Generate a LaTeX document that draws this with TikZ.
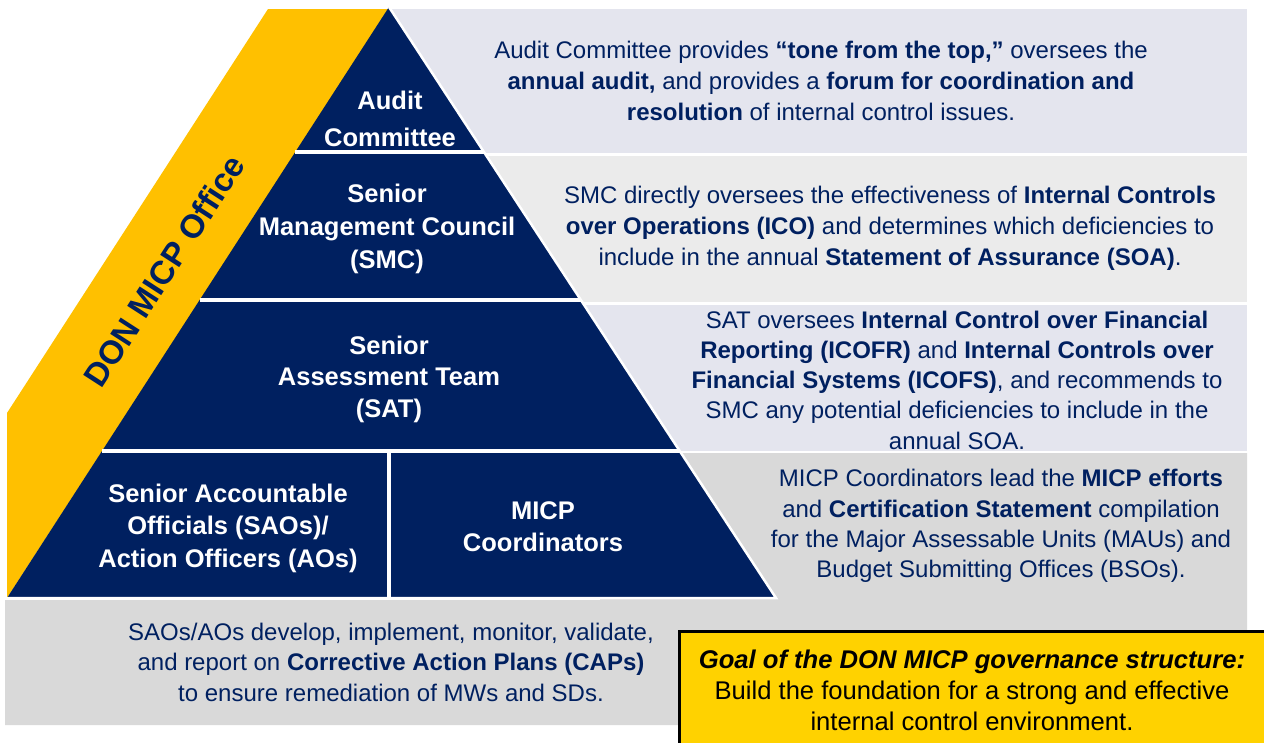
\documentclass[tikz,border=0pt]{standalone}
\usepackage{fontspec}
\setmainfont{Liberation Sans}
\usetikzlibrary{calc}

\definecolor{navy}{HTML}{002060}
\definecolor{gold}{HTML}{FFC000}
\definecolor{goalyellow}{HTML}{FFD200}
\definecolor{bandlav}{HTML}{E4E5EE}
\definecolor{bandgray}{HTML}{EBEBEB}
\definecolor{banddark}{HTML}{D9D9D9}

\begin{document}
\begin{tikzpicture}[x=1pt,y=-1pt,
  tierlabel/.style={text=white,align=center,inner sep=0pt,
    font=\bfseries\fontsize{25.5}{32.5}\selectfont},
  desc/.style={text=navy,align=center,inner sep=0pt,
    font=\fontsize{24}{30.5}\selectfont},
  separator/.style={draw=white,line width=4pt},
  goalbox/.style={fill=goalyellow,draw=black,line width=3pt,inner sep=0pt}
]
\useasboundingbox (0,0) rectangle (1264,742);

% grey description bands behind the pyramid
\fill[bandlav]  (389,9)   rectangle (1247,153);
\fill[bandgray] (470,156) rectangle (1247,302);
\fill[bandlav]  (560,305) rectangle (1247,451);
\fill[banddark] (600,453) -- (1247,453) -- (1247,725) -- (5,725)
                -- (5,600) -- (600,600) -- cycle;

% pyramid corners
\coordinate (apex) at (389,7);
\coordinate (bl) at (7,598);
\coordinate (br) at (776,598);

% yellow office band along the left flank
\fill[gold] (268,9) -- (389,9) -- (bl) -- (7,413) -- cycle;

% pyramid body
\fill[navy] (apex) -- (br) -- (bl) -- cycle;
\draw[draw=white,line width=2.5pt,line join=miter] (apex) -- (br) -- (bl);

% tier separators
\draw[separator] ($(apex)!0.2453!(bl)$) -- ($(apex)!0.2453!(br)$);
\draw[separator] ($(apex)!0.4958!(bl)$) -- ($(apex)!0.4958!(br)$);
\draw[separator] ($(apex)!0.7513!(bl)$) -- ($(apex)!0.7513!(br)$);
\draw[separator] (388.5,451) -- (388.5,598);

% office label on the yellow band
\node[rotate=57.1,text=navy,inner sep=0pt,
      font=\bfseries\fontsize{33}{33}\selectfont] (office) at (164,271) {DON MICP Office};

% tier labels
\node[tierlabel,font=\bfseries\fontsize{25.5}{37}\selectfont] (audit) at (390,119) {Audit\\Committee};
\node[tierlabel,font=\bfseries\fontsize{25.5}{33}\selectfont] (smc) at (387,229) {Senior\\Management Council\\(SMC)};
\node[tierlabel,font=\bfseries\fontsize{25.5}{31.5}\selectfont] (sat) at (389,379) {Senior\\Assessment Team\\(SAT)};
\node[tierlabel] (sao) at (228,528) {Senior Accountable\\Officials (SAOs)/\\Action Officers (AOs)};
\node[tierlabel,font=\bfseries\fontsize{25.5}{32}\selectfont] (micp) at (543,527) {MICP\\Coordinators};

% descriptions
\node[desc,font=\fontsize{24}{31}\selectfont] (auditdesc) at (821,81)
  {Audit Committee provides \textbf{“tone from the top,”} oversees the\\
   \textbf{annual audit,} and provides a \textbf{forum for coordination and}\\
   \textbf{resolution} of internal control issues.};
\node[desc,font=\fontsize{24}{31}\selectfont] (smcdesc) at (890,228)
  {SMC directly oversees the effectiveness of \textbf{Internal Controls}\\
   \textbf{over Operations (ICO)} and determines which deficiencies to\\
   include in the annual \textbf{Statement of Assurance (SOA)}.};
\node[desc,font=\fontsize{24}{30.25}\selectfont] (satdesc) at (957,380)
  {SAT oversees \textbf{Internal Control over Financial}\\
   \textbf{Reporting (ICOFR)} and \textbf{Internal Controls over}\\
   \textbf{Financial Systems (ICOFS)}, and recommends to\\
   SMC any potential deficiencies to include in the\\
   annual SOA.};
\node[desc,font=\fontsize{24}{30.3}\selectfont] (micpdesc) at (1001,526)
  {MICP Coordinators lead the \textbf{MICP efforts}\\
   and \textbf{Certification Statement} compilation\\
   for the Major Assessable Units (MAUs) and\\
   Budget Submitting Offices (BSOs).};
\node[desc] (saodesc) at (391,662)
  {SAOs/AOs develop, implement, monitor, validate,\\
   and report on \textbf{Corrective Action Plans (CAPs)}\\
   to ensure remediation of MWs and SDs.};

% goal call-out
\node[goalbox,anchor=north west,minimum width=592pt,minimum height=118pt] (goal) at (678,630) {};
\node[text=black,align=center,inner sep=0pt,font=\fontsize{25.6}{31}\selectfont] (goaltext) at (972,690)
  {\textbf{\textit{Goal of the DON MICP governance structure:}}\\
   Build the foundation for a strong and effective\\
   internal control environment.};
\end{tikzpicture}
\end{document}
